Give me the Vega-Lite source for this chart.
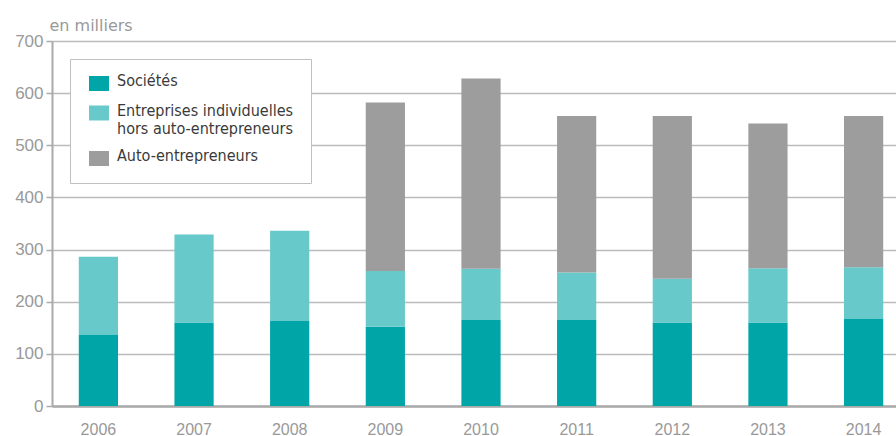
{
  "$schema": "https://vega.github.io/schema/vega-lite/v6.json",
  "width": 844,
  "height": 365,
  "autosize": {"type": "none"},
  "padding": {"left": 52, "top": 41, "right": 0, "bottom": 30},
  "background": "white",
  "data": {
    "values": [
      {"year": "2006", "type": "Sociétés", "value": 136, "ord": 1},
      {"year": "2006", "type": "Entreprises individuelles hors auto-entrepreneurs", "value": 150, "ord": 2},
      {"year": "2007", "type": "Sociétés", "value": 160, "ord": 1},
      {"year": "2007", "type": "Entreprises individuelles hors auto-entrepreneurs", "value": 169, "ord": 2},
      {"year": "2008", "type": "Sociétés", "value": 163, "ord": 1},
      {"year": "2008", "type": "Entreprises individuelles hors auto-entrepreneurs", "value": 173, "ord": 2},
      {"year": "2009", "type": "Sociétés", "value": 152, "ord": 1},
      {"year": "2009", "type": "Entreprises individuelles hors auto-entrepreneurs", "value": 107, "ord": 2},
      {"year": "2009", "type": "Auto-entrepreneurs", "value": 323, "ord": 3},
      {"year": "2010", "type": "Sociétés", "value": 165, "ord": 1},
      {"year": "2010", "type": "Entreprises individuelles hors auto-entrepreneurs", "value": 98, "ord": 2},
      {"year": "2010", "type": "Auto-entrepreneurs", "value": 365, "ord": 3},
      {"year": "2011", "type": "Sociétés", "value": 165, "ord": 1},
      {"year": "2011", "type": "Entreprises individuelles hors auto-entrepreneurs", "value": 91, "ord": 2},
      {"year": "2011", "type": "Auto-entrepreneurs", "value": 300, "ord": 3},
      {"year": "2012", "type": "Sociétés", "value": 160, "ord": 1},
      {"year": "2012", "type": "Entreprises individuelles hors auto-entrepreneurs", "value": 84, "ord": 2},
      {"year": "2012", "type": "Auto-entrepreneurs", "value": 312, "ord": 3},
      {"year": "2013", "type": "Sociétés", "value": 160, "ord": 1},
      {"year": "2013", "type": "Entreprises individuelles hors auto-entrepreneurs", "value": 104, "ord": 2},
      {"year": "2013", "type": "Auto-entrepreneurs", "value": 278, "ord": 3},
      {"year": "2014", "type": "Sociétés", "value": 167, "ord": 1},
      {"year": "2014", "type": "Entreprises individuelles hors auto-entrepreneurs", "value": 99, "ord": 2},
      {"year": "2014", "type": "Auto-entrepreneurs", "value": 290, "ord": 3}
    ]
  },
  "mark": {"type": "bar"},
  "encoding": {
    "x": {
      "field": "year",
      "type": "ordinal",
      "scale": {"range": [0, 858], "paddingInner": 0.59, "paddingOuter": 0.28},
      "axis": {
        "title": null,
        "labelAngle": 0,
        "ticks": false,
        "tickSize": 0,
        "labelPadding": 15,
        "labelFont": "Liberation Sans",
        "labelFontSize": 16,
        "labelColor": "#999999",
        "domainColor": "#aaaaaa",
        "domainWidth": 2.5,
        "grid": false
      }
    },
    "y": {
      "field": "value",
      "type": "quantitative",
      "stack": "zero",
      "scale": {"domain": [0, 700], "nice": false},
      "axis": {
        "values": [0, 100, 200, 300, 400, 500, 600, 700],
        "title": "en milliers",
        "titleAngle": 0,
        "titleAlign": "left",
        "titleBaseline": "alphabetic",
        "titleX": -3,
        "titleY": -11,
        "titleFont": "DejaVu Sans",
        "titleFontSize": 16,
        "titleFontWeight": "normal",
        "titleColor": "#999999",
        "labelFont": "Liberation Sans",
        "labelFontSize": 17,
        "labelColor": "#999999",
        "labelPadding": 3,
        "tickSize": 6,
        "tickColor": "#aaaaaa",
        "tickWidth": 1.5,
        "domainColor": "#aaaaaa",
        "domainWidth": 2,
        "gridColor": "#bbbbbb",
        "gridWidth": 1.5
      }
    },
    "color": {
      "field": "type",
      "type": "nominal",
      "scale": {
        "domain": ["Sociétés", "Entreprises individuelles hors auto-entrepreneurs", "Auto-entrepreneurs"],
        "range": ["#00a5a8", "#68c9ca", "#9d9d9d"]
      },
      "legend": {
        "orient": "none",
        "legendX": 18,
        "legendY": 18,
        "title": null,
        "strokeColor": "#c0c0c0",
        "fillColor": "white",
        "padding": 17,
        "symbolType": "M-0.8,-1H1.2V0.5H-0.8Z",
        "symbolSize": 400,
        "symbolStrokeWidth": 0,
        "symbolOpacity": 1,
        "labelFont": "DejaVu Sans Condensed, sans-serif",
        "labelFontSize": 16,
        "labelColor": "#3a3a3a",
        "labelOffset": 10,
        "labelLimit": 400,
        "rowPadding": 11.5,
        "labelBaseline": "alphabetic",
        "labelExpr": "datum.label == 'Entreprises individuelles hors auto-entrepreneurs' ? ['Entreprises individuelles', 'hors auto-entrepreneurs'] : datum.label",
        "encode": {
          "legend": {"strokeWidth": {"value": 1.5}},
          "labels": {"dy": {"value": 4}, "lineHeight": {"value": 21.5}}
        }
      }
    },
    "order": {"field": "ord", "type": "quantitative"}
  },
  "config": {
    "view": {"stroke": null},
    "bar": {"stroke": null}
  }
}
